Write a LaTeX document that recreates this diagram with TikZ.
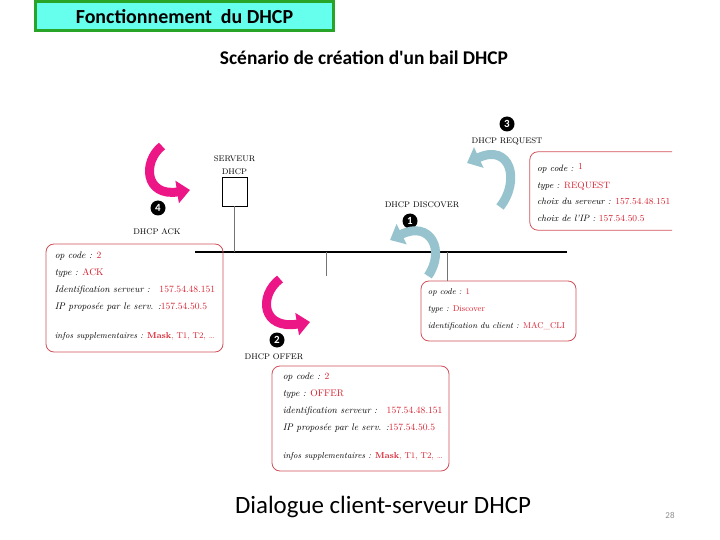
\documentclass[tikz,border=0pt]{standalone}
\usepackage{fontspec}
\setsansfont{Carlito}
\usetikzlibrary{arrows.meta,calc,positioning}
\definecolor{titlefill}{RGB}{102,255,238}
\definecolor{titledraw}{RGB}{40,165,40}
\definecolor{boxred}{RGB}{208,80,90}
\definecolor{valred}{RGB}{215,30,45}
\definecolor{arrowpink}{RGB}{236,22,134}
\definecolor{arrowblue}{RGB}{150,195,205}
\newcommand{\val}[1]{\textcolor{valred}{\upshape #1}}
\newcommand{\extras}{{\fontsize{8.6}{17}\selectfont infos supplementaires :
  \val{\bfseries Mask}\val{, T1, T2, \ldots}}}

\begin{document}
\begin{tikzpicture}[x=1bp,y=-1bp,
  infobox/.style = {draw=boxred, line width=0.8bp, rounded corners=8bp},
  infotext/.style = {align=left, anchor=north west, inner sep=0pt,
    font=\itshape\fontsize{9.6}{17}\selectfont},
  msglabel/.style = {font=\fontsize{8.2}{8}\selectfont, inner sep=1bp},
  stepnum/.style = {circle, fill=black, text=white, inner sep=0pt,
    minimum size=15bp, font=\sffamily\bfseries\fontsize{11}{11}\selectfont},
  pinkarrow/.style = {draw=arrowpink, line width=9bp,
    -{Triangle[width=22bp,length=13bp]}},
  bluearrow/.style = {draw=arrowblue, line width=9bp,
    -{Triangle[width=22bp,length=13bp]}},
  wire/.style = {draw=black!55, line width=0.7bp}]
  \useasboundingbox (0,0) rectangle (720,540);

  % headings
  \node (title) [fill=titlefill, draw=titledraw, line width=3bp,
    minimum width=297bp, minimum height=29bp, inner sep=0pt,
    font=\sffamily\bfseries\fontsize{20}{20}\selectfont]
    at (184.5,16.5) {Fonctionnement~ du DHCP};
  \node (scenario) [font=\sffamily\bfseries\fontsize{19.5}{20}\selectfont]
    at (364,58) {Scénario de création d\textquotesingle un bail DHCP};

  % server and network
  \node (srv) [draw, line width=0.8bp, minimum width=25bp,
    minimum height=29bp] at (234.5,191.5) {};
  \node (srvname) [msglabel, align=center, above=1bp of srv,
    font=\fontsize{8.2}{13}\selectfont] {SERVEUR\\DHCP};
  \coordinate (netL) at (195,252);
  \coordinate (netR) at (567,252);
  \coordinate (cli) at (447,252);
  \coordinate (stub) at (326,252);
  \coordinate (stubend) at (326,276);
  \draw[line width=1.3bp] (netL) -- (netR);
  \draw[wire] (srv.south) -- (srv.south |- netL);
  \draw[wire] (stub) -- (stubend);

  % message boxes
  \node (ack) [infobox, minimum width=177bp, minimum height=108bp]
    at (134.5,298) {};
  \node (acktext) [infotext] at ($(ack.north west)+(9,8)$) {%
    op code : \val{2}\\
    type : \val{ACK}\\
    Identification serveur :\quad \val{157.54.48.151}\\
    IP proposée par le serv. :\val{157.54.50.5}\\[12bp]
    \extras};
  \node (disc) [infobox, minimum width=155bp, minimum height=60bp]
    at (498.5,311) {};
  \node (disctext) [infotext, font=\itshape\fontsize{8.5}{17}\selectfont]
    at ($(disc.north west)+(7,8)$) {%
    op code : \val{1}\\
    type : \val{Discover}\\
    identification du client : \val{MAC\_CLI}};
  \draw[wire] (cli) -- (cli |- disc.north);
  \node (req) [minimum width=142bp, minimum height=78bp] at (601,191) {};
  \draw[draw=boxred, line width=0.8bp, rounded corners=8bp]
    (req.north east) -| (req.south west) -- (req.south east);
  \node (reqtext) [infotext, font=\itshape\fontsize{9.2}{17}\selectfont]
    at ($(req.north west)+(7,11)$) {%
    op code : \raisebox{2bp}{\val{1}}\\
    type : \val{REQUEST}\\
    choix du serveur : \val{157.54.48.151}\\
    choix de l'IP : \val{157.54.50.5}};
  \node (offer) [infobox, minimum width=177bp, minimum height=105bp]
    at (360.5,418.5) {};
  \node (offertext) [infotext] at ($(offer.north west)+(11,7)$) {%
    op code : \val{2}\\
    type : \val{OFFER}\\
    identification serveur :\quad \val{157.54.48.151}\\
    IP proposée par le serv. :\val{157.54.50.5}\\[11bp]
    \extras};

  % steps
  \node (n1) [stepnum] at (410,221) {1};
  \node (n2) [stepnum] at (277,340) {2};
  \node (n3) [stepnum] at (507,124) {3};
  \node (n4) [stepnum] at (158,208) {4};
  \node (l1) [msglabel] at (422,205) {DHCP DISCOVER};
  \node (l2) [msglabel] at (274,357) {DHCP OFFER};
  \node (l3) [msglabel] at (507,141) {DHCP REQUEST};
  \node (l4) [msglabel] at (157,232) {DHCP ACK};

  \draw[bluearrow] (428,276) .. controls (446,250) and (430,220) .. (390,240);
  \draw[pinkarrow] (280,279) .. controls (258,296) and (262,330) .. (310,322);
  \draw[bluearrow] (500,207) .. controls (521,180) and (510,143) .. (467,163);
  \draw[pinkarrow] (162,146) .. controls (142,162) and (145,197) .. (190,190);

  % footer
  \node (caption) [font=\sffamily\fontsize{25}{25}\selectfont]
    at (383,507) {Dialogue client-serveur DHCP};
  \node (pagenum) [text=black!45, font=\sffamily\fontsize{9}{9}\selectfont]
    at (670,515) {28};
\end{tikzpicture}
\end{document}
